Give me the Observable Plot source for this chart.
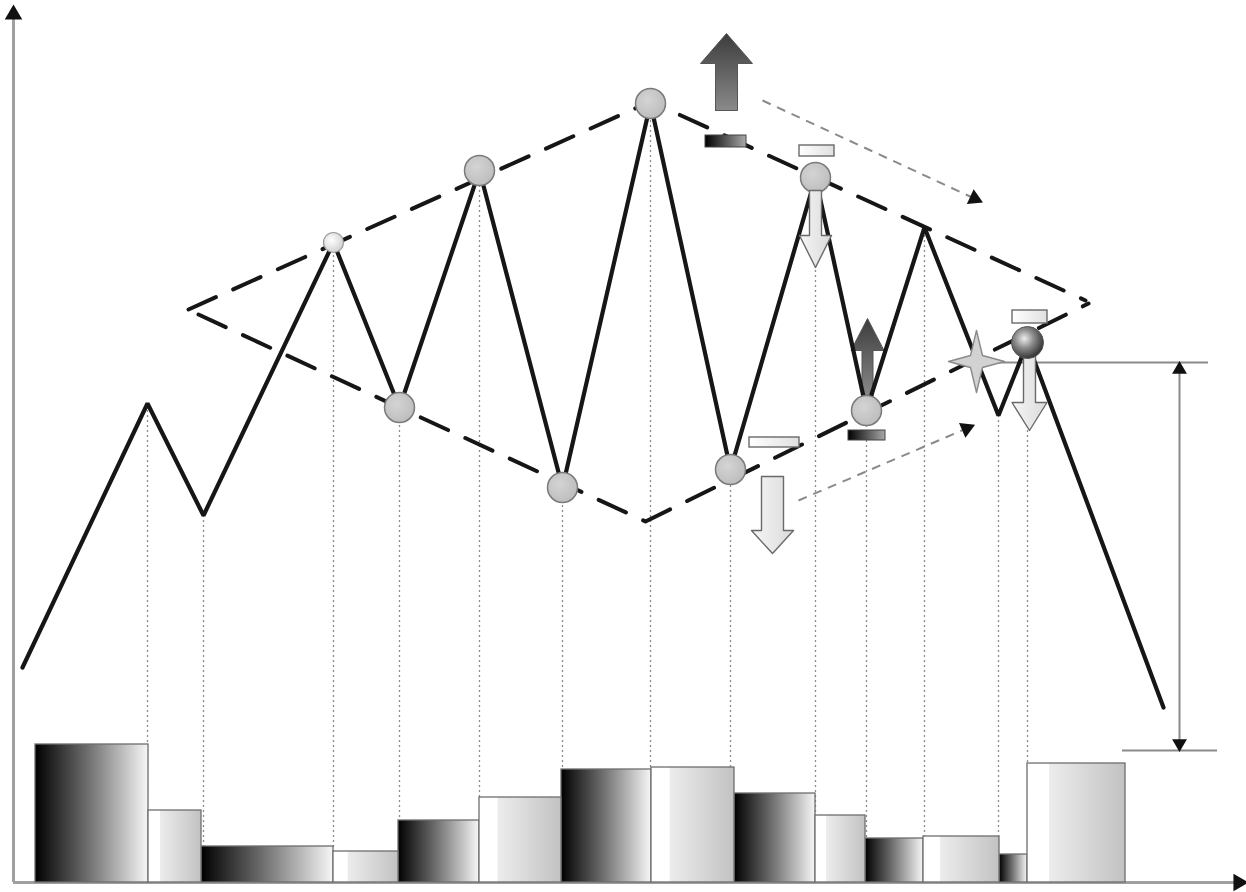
<!DOCTYPE html>
<html><head><meta charset="utf-8">
<script src="https://cdn.jsdelivr.net/npm/d3@7"></script>
<script src="https://cdn.jsdelivr.net/npm/@observablehq/plot@0.6"></script>
<style>html,body{margin:0;padding:0;background:#fff}#chart svg{display:block}</style>
</head><body><div id="chart"></div>
<script>
// ---- price path (time, price) ----
const time  = [22, 147, 203, 333, 399, 479, 562, 650, 730, 815, 866, 924, 998, 1027, 1163];
const price = [215, 479, 367, 640, 475, 712, 395, 779, 413, 705, 472, 655, 467, 540, 175];

// ---- volume histogram ----
const volEdges = [35, 148, 201, 333, 398, 479, 561, 651, 734, 815, 865, 923, 999, 1027, 1125];
const volume   = [138, 72, 36, 31, 62, 85, 113, 115, 89, 67, 44, 46, 28, 119];
const volTone  = ["dark","light","dark","light","dark","light","dark","light","dark","light","dark","light","dark","light"];

// ---- diamond borders ----
const upperBorderT = [188, 650, 1085];
const upperBorderP = [573, 781, 582];
const lowerBorderT = [198, 645, 1088];
const lowerBorderP = [568, 361, 579];

// ---- marked turning points ----
const pivotT = [399, 479, 562, 650, 730, 815, 866];
const pivotP = [475, 712, 395, 779, 413, 705, 472];
const smallPivot = {t: 333, p: 640};
const breakoutPivot = {t: 1027, p: 540};

// ---- block arrows: centre time, tail, head base, tip, half widths ----
const arrowId    = ["A1", "A2", "A3", "A4", "A5"];
const arrowTone  = ["dark", "light", "dark", "light", "light"];
const arrowT     = [726, 815, 867, 772, 1029];
const arrowTail  = [772, 692, 485, 406, 532];
const arrowBase  = [819, 647, 532, 352, 480];
const arrowTip   = [849, 615, 564, 329, 452];
const arrowShaft = [11, 6, 5.5, 11, 6];
const arrowHead  = [26, 16, 16.5, 21, 17.5];

// ---- small volume markers ----
const markT1 = [705, 799, 848, 749, 1012];
const markT2 = [746, 834, 885, 799, 1047];
const markP1 = [735, 726, 442, 435, 559];
const markP2 = [747, 737, 452, 445, 572];
const markTone = ["dark", "light", "dark", "light", "light"];

// ---- star (breakout) vertices ----
const starT = [976, 982, 1004, 982, 976, 970, 948, 970, 976];
const starP = [552, 527, 521, 515, 490, 515, 521, 527, 552];

// ---- thin dashed trend arrows ----
const trendT1 = [762, 798], trendP1 = [782, 382];
const trendT2 = [974, 966], trendP2 = [684, 454];

// ---- target measure ----
const measureTopP = 520, measureBottomP = 132, measureT = 1179;
const measureTopT = [995, 1208], measureBottomT = [1122, 1217];

// ---- axes ----
const axisOriginT = 13, axisTopP = 874, axisRightT = 1240;

// ----------- build tables -----------
const priceData = time.map((t, i) => ({t, p: price[i]}));
const guides = priceData.slice(1, -1);
const bars = volume.map((v, i) => ({x1: volEdges[i], x2: volEdges[i + 1], v, tone: volTone[i]}));
const upper = upperBorderT.map((t, i) => ({t, p: upperBorderP[i]}));
const lower = lowerBorderT.map((t, i) => ({t, p: lowerBorderP[i]}));
const pivots = pivotT.map((t, i) => ({t, p: pivotP[i]}));
const arrowPolys = arrowId.flatMap((id, i) => {
  const x = arrowT[i], s = arrowShaft[i], h = arrowHead[i];
  const pts = [[x - s, arrowTail[i]], [x - s, arrowBase[i]], [x - h, arrowBase[i]], [x, arrowTip[i]],
               [x + h, arrowBase[i]], [x + s, arrowBase[i]], [x + s, arrowTail[i]], [x - s, arrowTail[i]]];
  return pts.map(([t, p]) => ({id, tone: arrowTone[i], t, p}));
});
const marks = markT1.map((t, i) => ({x1: t, x2: markT2[i], y1: markP1[i], y2: markP2[i], tone: markTone[i]}));
const star = starT.map((t, i) => ({t, p: starP[i]}));
const trends = trendT1.map((t, i) => ({x1: t, y1: trendP1[i], x2: trendT2[i], y2: trendP2[i],
  rot: Math.atan2(trendT2[i] - t, trendP2[i] - trendP1[i]) * 180 / Math.PI}));

const lineInk = "#161616";

const chart = Plot.plot({
  width: 1246, height: 892, margin: 0,
  x: {domain: [0, 1246], range: [0, 1246], axis: null},
  y: {domain: [0, 882], range: [882, 0], axis: null},
  marks: [
    // axes
    Plot.ruleX([axisOriginT], {y1: 0, y2: axisTopP - 8, stroke: "#a0a0a0", strokeWidth: 3}),
    Plot.ruleY([0], {x1: axisOriginT, x2: axisRightT - 6, stroke: "#a0a0a0", strokeWidth: 3}),
    // dotted guides
    Plot.ruleX(guides, {x: "t", y1: 0, y2: "p", stroke: "#8c8c8c", strokeWidth: 1.3, strokeDasharray: "2,3"}),
    // volume bars
    Plot.rect(bars.filter(d => d.tone === "dark"), {x1: "x1", x2: "x2", y1: 0, y2: "v", fill: "url(#barDark)", stroke: "#6e6e6e", strokeWidth: 1.3}),
    Plot.rect(bars.filter(d => d.tone === "light"), {x1: "x1", x2: "x2", y1: 0, y2: "v", fill: "url(#barLight)", stroke: "#6e6e6e", strokeWidth: 1.3}),
    // measure
    Plot.ruleY([measureTopP], {x1: measureTopT[0], x2: measureTopT[1], stroke: "#8a8a8a", strokeWidth: 1.8}),
    Plot.ruleY([measureBottomP], {x1: measureBottomT[0], x2: measureBottomT[1], stroke: "#8a8a8a", strokeWidth: 1.8}),
    Plot.ruleX([measureT], {y1: measureBottomP + 6, y2: measureTopP - 6, stroke: "#8a8a8a", strokeWidth: 2}),
    Plot.dot([{t: measureT, p: measureTopP - 7, r: 0}, {t: measureT, p: measureBottomP + 7, r: 180}], {x: "t", y: "p", rotate: "r", symbol: "triangle", r: 5.5, fill: "#111", stroke: "none"}),
    // diamond
    Plot.line(upper, {x: "t", y: "p", stroke: lineInk, strokeWidth: 4, strokeDasharray: "30,19"}),
    Plot.line(lower, {x: "t", y: "p", stroke: lineInk, strokeWidth: 4, strokeDasharray: "30,19"}),
    // thin dashed trend arrows
    Plot.link(trends, {x1: "x1", y1: "y1", x2: "x2", y2: "y2", stroke: "#8a8a8a", strokeWidth: 2, strokeDasharray: "9,7"}),
    Plot.dot(trends, {x: "x2", y: "y2", rotate: "rot", symbol: "triangle", r: 6, fill: "#111", stroke: "none"}),
    // dark arrow under the line
    Plot.line(arrowPolys.filter(d => d.id === "A3"), {x: "t", y: "p", z: "id", fill: "url(#arrowDark)", stroke: "#555", strokeWidth: 1}),
    // price line
    Plot.line(priceData, {x: "t", y: "p", stroke: lineInk, strokeWidth: 4.2, strokeLinejoin: "miter"}),
    // pivots
    Plot.dot(pivots, {x: "t", y: "p", r: 15, fill: "url(#pivotFill)", stroke: "#7a7a7a", strokeWidth: 1.5}),
    Plot.dot([smallPivot], {x: "t", y: "p", r: 10, fill: "url(#smallPivotFill)", stroke: "#9a9a9a", strokeWidth: 1.2}),
    // other block arrows
    Plot.line(arrowPolys.filter(d => d.id === "A1"), {x: "t", y: "p", z: "id", fill: "url(#arrowDark)", stroke: "#555", strokeWidth: 1}),
    Plot.line(arrowPolys.filter(d => d.tone === "light"), {x: "t", y: "p", z: "id", fill: "url(#arrowLight)", stroke: "#6a6a6a", strokeWidth: 1.4}),
    // small markers
    Plot.rect(marks.filter(d => d.tone === "dark"), {x1: "x1", x2: "x2", y1: "y1", y2: "y2", fill: "url(#markDark)", stroke: "#444", strokeWidth: 1}),
    Plot.rect(marks.filter(d => d.tone === "light"), {x1: "x1", x2: "x2", y1: "y1", y2: "y2", fill: "url(#markLight)", stroke: "#6a6a6a", strokeWidth: 1.4}),
    // star
    Plot.line(star, {x: "t", y: "p", fill: "#d2d2d2", stroke: "#8a8a8a", strokeWidth: 1.4}),
    // breakout sphere
    Plot.dot([breakoutPivot], {x: "t", y: "p", r: 16, fill: "url(#sphere)", stroke: "#555", strokeWidth: 1}),
    // axis arrow heads
    Plot.dot([{t: axisOriginT, p: axisTopP - 6, r: 0}, {t: axisRightT - 2, p: 0, r: 90}], {x: "t", y: "p", rotate: "r", symbol: "triangle", r: 6.5, fill: "#111", stroke: "none"})
  ]
});

const defs = d3.select(chart).insert("defs", ":first-child");
function lin(id, stops, vertical) {
  const g = defs.append("linearGradient").attr("id", id)
    .attr("x1", 0).attr("y1", 0).attr("x2", vertical ? 0 : 1).attr("y2", vertical ? 1 : 0);
  stops.forEach(([o, c]) => g.append("stop").attr("offset", o).attr("stop-color", c));
}
lin("barDark", [["0%", "#000"], ["45%", "#6a6a6a"], ["92%", "#e2e2e2"], ["100%", "#f6f6f6"]]);
lin("barLight", [["0%", "#fff"], ["22%", "#fff"], ["23%", "#ececec"], ["100%", "#c2c2c2"]]);
lin("arrowDark", [["0%", "#3c3c3c"], ["100%", "#8a8a8a"]], true);
lin("arrowLight", [["0%", "#f6f6f6"], ["100%", "#dadada"]]);
lin("markDark", [["0%", "#000"], ["100%", "#a8a8a8"]]);
lin("markLight", [["0%", "#ffffff"], ["100%", "#e0e0e0"]]);
function rad(id, stops) {
  const g = defs.append("radialGradient").attr("id", id).attr("cx", "40%").attr("cy", "38%").attr("r", "65%");
  stops.forEach(([o, c]) => g.append("stop").attr("offset", o).attr("stop-color", c));
}
rad("pivotFill", [["0%", "#d4d4d4"], ["100%", "#bdbdbd"]]);
rad("smallPivotFill", [["0%", "#ffffff"], ["100%", "#d0d0d0"]]);
rad("sphere", [["0%", "#eeeeee"], ["45%", "#8c8c8c"], ["100%", "#2e2e2e"]]);

document.getElementById("chart").append(chart);
</script>
</body></html>
